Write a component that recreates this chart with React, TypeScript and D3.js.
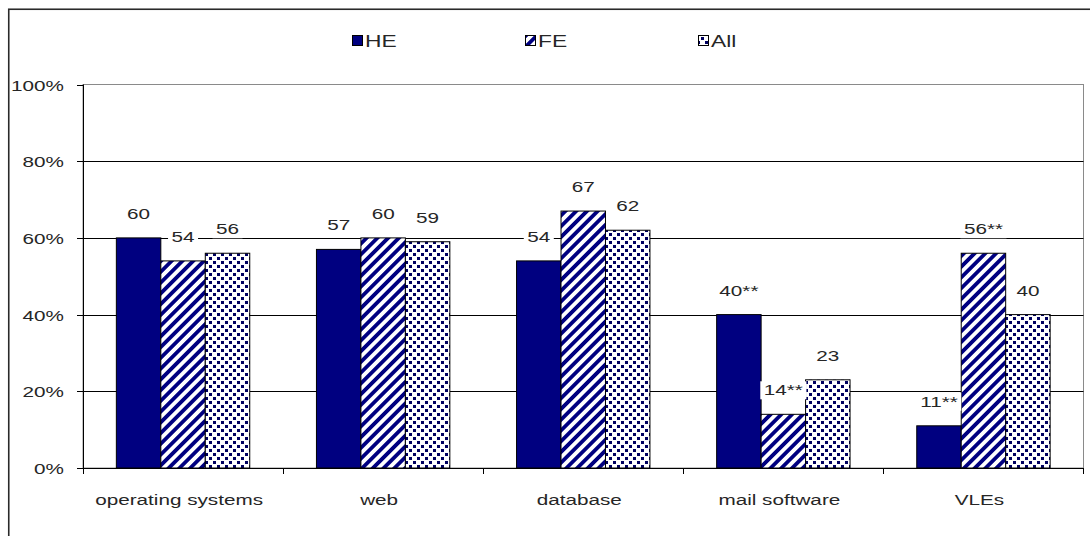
import React, { useEffect, useRef } from "react";
import * as d3 from "d3";

// Share of respondents (%) by software area and sector
const categories = ["operating systems", "web", "database", "mail software", "VLEs"];
const seriesNames = ["HE", "FE", "All"];
const heValues = [60, 57, 54, 40, 11];
const feValues = [54, 60, 67, 14, 56];
const allValues = [56, 59, 62, 23, 40];
// significance markers (**) per series
const heSignificant = [false, false, false, true, true];
const feSignificant = [false, false, false, true, true];
const allSignificant = [false, false, false, false, false];
const yTicks = [0, 20, 40, 60, 80, 100];

const W = 1090;
const H = 536;
const FONT = "Arial, 'Liberation Sans', sans-serif";
const FS = 15;
const SX = 1.38;
const TEXT_COLOR = "#262626";

export default function App() {
  const ref = useRef<SVGSVGElement | null>(null);

  useEffect(() => {
    const svg = d3.select(ref.current);
    svg.selectAll("*").remove();

    const defs = svg.append("defs");
    const hatch = defs
      .append("pattern")
      .attr("id", "hatchFE")
      .attr("patternUnits", "userSpaceOnUse")
      .attr("width", 7.6)
      .attr("height", 7.6)
      .attr("patternTransform", "rotate(45)");
    hatch.append("rect").attr("width", 7.6).attr("height", 7.6).attr("fill", "#fff");
    hatch.append("rect").attr("x", 0).attr("width", 3.8).attr("height", 7.6).attr("fill", "#000080");

    const dots = defs
      .append("pattern")
      .attr("id", "dotsAll")
      .attr("patternUnits", "userSpaceOnUse")
      .attr("width", 8)
      .attr("height", 8);
    dots.append("rect").attr("width", 8).attr("height", 8).attr("fill", "#fff");
    dots
      .append("rect")
      .attr("x", 1)
      .attr("y", 1)
      .attr("width", 2.5)
      .attr("height", 2.5)
      .attr("fill", "#000060")
      .attr("shape-rendering", "crispEdges");
    dots
      .append("rect")
      .attr("x", 5)
      .attr("y", 5)
      .attr("width", 2.5)
      .attr("height", 2.5)
      .attr("fill", "#000060")
      .attr("shape-rendering", "crispEdges");

    const fills = ["#000080", "url(#hatchFE)", "url(#dotsAll)"];
    const values = [heValues, feValues, allValues];
    const sig = [heSignificant, feSignificant, allSignificant];

    // outer chart frame (extends past the canvas on right/bottom)
    svg
      .append("rect")
      .attr("x", 8.75)
      .attr("y", 9.25)
      .attr("width", W + 20)
      .attr("height", H + 20)
      .attr("fill", "#fff")
      .attr("stroke", "#2a2a2a")
      .attr("stroke-width", 1.6);

    const left = 83;
    const right = 1083.5;
    const top = 84.5;
    const bottom = 468;

    const x = d3.scaleBand<string>().domain(categories).range([left, right]).padding(0);
    const xs = d3
      .scaleBand<string>()
      .domain(seriesNames)
      .range([0, x.bandwidth()])
      .paddingInner(0)
      .paddingOuter(0.75);
    const y = d3.scaleLinear().domain([0, 100]).range([bottom, top]);

    const txt = (
      g: d3.Selection<any, unknown, null, undefined>,
      tx: number,
      ty: number,
      s: string,
      anchor: string,
      size: number = FS
    ) =>
      g
        .append("text")
        .attr("transform", `translate(${tx},${ty}) scale(${SX},1)`)
        .attr("text-anchor", anchor)
        .attr("font-family", FONT)
        .attr("font-size", size)
        .attr("fill", TEXT_COLOR)
        .text(s);

    // plot area border
    svg
      .append("rect")
      .attr("x", left)
      .attr("y", top)
      .attr("width", right - left)
      .attr("height", bottom - top)
      .attr("fill", "none")
      .attr("stroke", "#8a8a8a")
      .attr("stroke-width", 1);

    // gridlines
    svg
      .append("g")
      .selectAll("line")
      .data(yTicks.filter((t) => t > 0 && t < 100))
      .join("line")
      .attr("x1", left)
      .attr("x2", right)
      .attr("y1", (d) => Math.round(y(d)) + 0.5)
      .attr("y2", (d) => Math.round(y(d)) + 0.5)
      .attr("stroke", "#000")
      .attr("stroke-width", 1);

    // bars
    const bars = svg.append("g");
    seriesNames.forEach((s, si) => {
      bars
        .selectAll(`rect.s${si}`)
        .data(categories)
        .join("rect")
        .attr("class", `s${si}`)
        .attr("x", (c) => (x(c) as number) + (xs(s) as number))
        .attr("y", (_c, i) => y(values[si][i]))
        .attr("width", xs.bandwidth())
        .attr("height", (_c, i) => bottom - y(values[si][i]))
        .attr("fill", fills[si])
        .attr("stroke", "#000")
        .attr("stroke-width", 1);
    });

    // y axis
    svg
      .append("line")
      .attr("x1", left + 0.5)
      .attr("x2", left + 0.5)
      .attr("y1", top)
      .attr("y2", bottom)
      .attr("stroke", "#000");
    const yAxis = svg.append("g");
    yTicks.forEach((t) => {
      const yy = Math.round(y(t)) + 0.5;
      yAxis.append("line").attr("x1", left - 6).attr("x2", left).attr("y1", yy).attr("y2", yy).attr("stroke", "#000");
      txt(yAxis, 64, yy + 5.5, `${t}%`, "end");
    });

    // x axis
    svg
      .append("line")
      .attr("x1", left)
      .attr("x2", right)
      .attr("y1", bottom + 0.5)
      .attr("y2", bottom + 0.5)
      .attr("stroke", "#000");
    const xAxis = svg.append("g");
    const bounds = categories.map((c) => x(c) as number).concat([right - 0.5]);
    bounds.forEach((bx) => {
      const xx = Math.round(bx) + 0.5;
      xAxis.append("line").attr("x1", xx).attr("x2", xx).attr("y1", bottom).attr("y2", bottom + 6).attr("stroke", "#000");
    });
    categories.forEach((c) => {
      txt(xAxis, (x(c) as number) + x.bandwidth() / 2 - 4, 505, c, "middle");
    });

    // data labels with white backing boxes
    const labels = svg.append("g");
    seriesNames.forEach((s, si) => {
      categories.forEach((c, i) => {
        const v = values[si][i];
        const cx = (x(c) as number) + (xs(s) as number) + xs.bandwidth() / 2;
        const by = y(v) - 19;
        const g = labels.append("g");
        const t = txt(g, cx, by, `${v}${sig[si][i] ? "**" : ""}`, "middle");
        const bb = (t.node() as SVGTextElement).getBBox();
        const w = bb.width * SX + 7;
        g.insert("rect", "text")
          .attr("x", cx - w / 2)
          .attr("y", by - 14)
          .attr("width", w)
          .attr("height", 18)
          .attr("fill", "#fff");
      });
    });

    // legend
    const legX = [352, 525, 698];
    const lg = svg.append("g");
    seriesNames.forEach((s, si) => {
      lg.append("rect")
        .attr("x", legX[si] + 0.5)
        .attr("y", 35.5)
        .attr("width", 10)
        .attr("height", 10)
        .attr("fill", fills[si])
        .attr("stroke", "#000")
        .attr("stroke-width", 1);
      txt(lg, legX[si] + 13, 47, s, "start", 16.5);
    });
  }, []);

  return (
    <svg
      ref={ref}
      width={W}
      height={H}
      style={{ position: "absolute", left: 0, top: 0, background: "#fff" }}
    />
  );
}
